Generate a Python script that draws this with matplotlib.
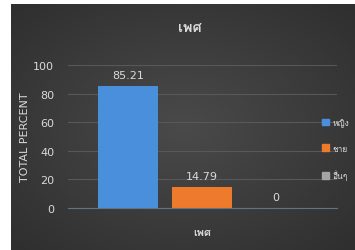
import matplotlib
matplotlib.use('Agg')
import numpy as np
import matplotlib.pyplot as plt
from matplotlib import font_manager as fm
from matplotlib.ft2font import FT2Font
from matplotlib.colors import LinearSegmentedColormap
from matplotlib.patches import Patch

# data
series = ['หญิง', 'ชาย', 'อื่นๆ']
values = [85.21, 14.79, 0]
colors = ['#4a8fdb', '#ee7b2c', '#a5a5a5']
yticks = [0, 20, 40, 60, 80, 100]

# look for an installed family that has Thai glyphs
thai = []
for f in fm.fontManager.ttflist:
    try:
        cmap = FT2Font(f.fname).get_charmap()
    except Exception:
        continue
    if 0x0E40 in cmap and 0x0E0D in cmap and f.name not in thai:
        thai.append(f.name)
plt.rcParams['font.family'] = ['DejaVu Sans'] + thai[:1]
txt = '#d9d9d9'

fig = plt.figure(figsize=(3.55, 2.51), dpi=100, facecolor='white')
# dark chart background with a soft radial glow, thin light margin left/top
bg = fig.add_axes([11 / 355, 0, 1 - 11 / 355, 1 - 5 / 251])
yy, xx = np.mgrid[-1:1:120j, -1:1:160j]
glow = np.sqrt(xx ** 2 + yy ** 2)
shade = LinearSegmentedColormap.from_list('shade', ['#4a4a4a', '#2f2f2f'])
bg.imshow(glow, cmap=shade, aspect='auto', extent=(0, 1, 0, 1), vmin=0, vmax=1.4)
bg.set_xticks([])
bg.set_yticks([])
for s in bg.spines.values():
    s.set_visible(False)

ax = fig.add_axes([68 / 355, 42 / 251, (337 - 68) / 355, (209 - 66) / 251])
ax.set_facecolor('none')
pos = list(range(len(series)))
ax.bar(pos, values, width=0.81, color=colors, zorder=3)
for p, v in zip(pos, values):
    lbl = '0' if v == 0 else f'{v:.2f}'
    ax.text(p, v + 4, lbl, ha='center', va='bottom', color=txt, fontsize=8)

ax.set_xlim(-0.81, 2.82)
ax.set_ylim(0, 100)
ax.set_yticks(yticks)
ax.set_xticks([])
ax.tick_params(axis='y', length=0, colors=txt, labelsize=8, pad=10)
ax.grid(axis='y', color='#585858', linewidth=0.8, zorder=0)
for s in ['top', 'right', 'left']:
    ax.spines[s].set_visible(False)
ax.spines['bottom'].set_color('#5f7587')
ax.spines['bottom'].set_zorder(4)

ax.set_ylabel('TOTAL PERCENT', color=txt, fontsize=8, labelpad=2)
ax.set_xlabel('เพศ', color=txt, fontsize=8, fontweight='bold', labelpad=14)
fig.text(190 / 355, 1 - 27 / 251, 'เพศ', color=txt, fontsize=10.5,
         fontweight='bold', ha='center', va='center')

handles = [Patch(color=c) for c in colors]
fig.legend(handles, series, loc='center left', bbox_to_anchor=(314 / 355, 1 - 150 / 251),
           frameon=False, fontsize=6, labelcolor=txt, handlelength=0.9,
           handleheight=0.9, handletextpad=0.4, labelspacing=2.0)

fig.savefig('out.png', dpi=100)
